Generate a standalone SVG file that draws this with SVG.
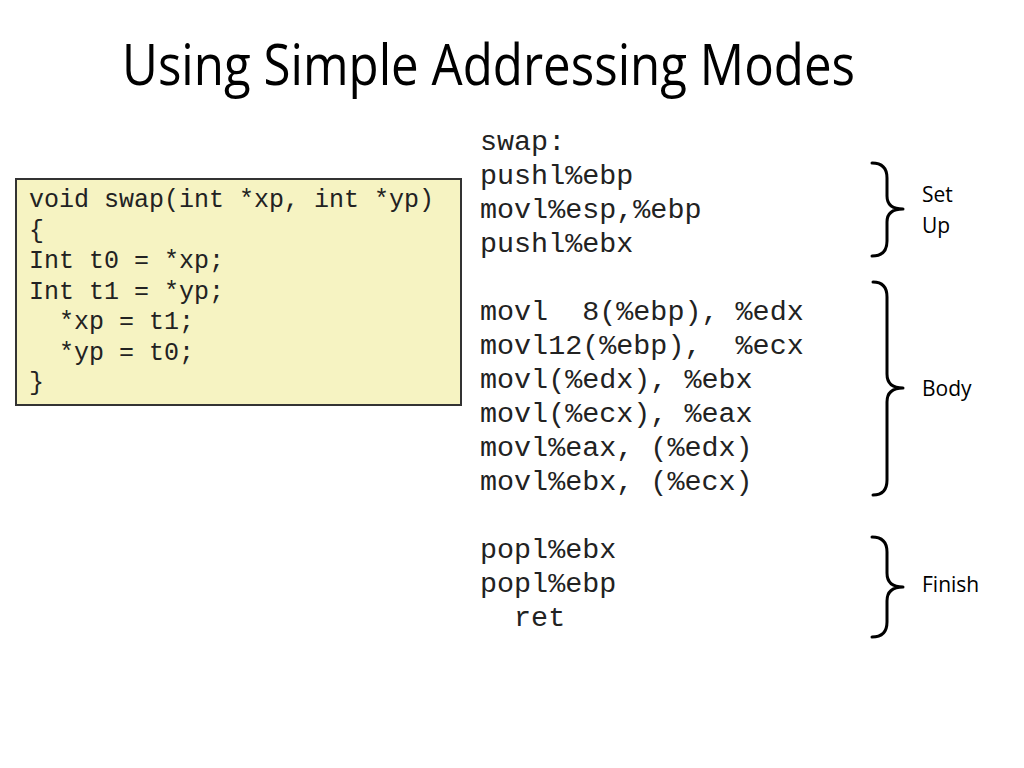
<svg xmlns="http://www.w3.org/2000/svg" width="1024" height="768" viewBox="0 0 1024 768">
  <style>
    .title { font-family: "Open Sans", "Liberation Sans", sans-serif; font-size: 56px; fill: #000; }
    .code { font-family: "Liberation Mono", "Courier New", monospace; font-size: 25px; fill: #222; white-space: pre; }
    .asm { font-family: "Liberation Mono", "Courier New", monospace; font-size: 28.4px; fill: #222; white-space: pre; }
    .label { font-family: "Open Sans", "Liberation Sans", sans-serif; font-size: 21px; fill: #000; }
    .brace { fill: none; stroke: #000; stroke-width: 3; stroke-linecap: round; stroke-linejoin: round; }
  </style>
  <rect x="0" y="0" width="1024" height="768" fill="#ffffff"/>

  <g id="title">
    <text class="title" x="122" y="85" textLength="733" lengthAdjust="spacingAndGlyphs">Using Simple Addressing Modes</text>
  </g>

  <g id="c-code">
    <rect x="16" y="179" width="445" height="226" fill="#F6F3C2" stroke="#333333" stroke-width="2"/>
    <text class="code" xml:space="preserve" x="29" y="207">void swap(int *xp, int *yp)</text>
    <text class="code" xml:space="preserve" x="29" y="237.5">{</text>
    <text class="code" xml:space="preserve" x="29" y="268">Int t0 = *xp;</text>
    <text class="code" xml:space="preserve" x="29" y="298.5">Int t1 = *yp;</text>
    <text class="code" xml:space="preserve" x="29" y="329">  *xp = t1;</text>
    <text class="code" xml:space="preserve" x="29" y="359.5">  *yp = t0;</text>
    <text class="code" xml:space="preserve" x="29" y="390">}</text>
  </g>

  <g id="asm-code">
    <text class="asm" xml:space="preserve" x="480" y="150">swap:</text>
    <text class="asm" xml:space="preserve" x="480" y="184">pushl%ebp</text>
    <text class="asm" xml:space="preserve" x="480" y="218">movl%esp,%ebp</text>
    <text class="asm" xml:space="preserve" x="480" y="252">pushl%ebx</text>
    <text class="asm" xml:space="preserve" x="480" y="320">movl  8(%ebp), %edx</text>
    <text class="asm" xml:space="preserve" x="480" y="354">movl12(%ebp),  %ecx</text>
    <text class="asm" xml:space="preserve" x="480" y="388">movl(%edx), %ebx</text>
    <text class="asm" xml:space="preserve" x="480" y="422">movl(%ecx), %eax</text>
    <text class="asm" xml:space="preserve" x="480" y="456">movl%eax, (%edx)</text>
    <text class="asm" xml:space="preserve" x="480" y="490">movl%ebx, (%ecx)</text>
    <text class="asm" xml:space="preserve" x="480" y="558">popl%ebx</text>
    <text class="asm" xml:space="preserve" x="480" y="592">popl%ebp</text>
    <text class="asm" xml:space="preserve" x="480" y="626">  ret</text>
  </g>

  <g id="braces">
    <path class="brace" d="M872,163 Q887,163 887,178 L887,196 Q887,209 903,209 Q887,209 887,222 L887,241 Q887,256 872,256"/>
    <path class="brace" d="M873,282 Q887,282 887,297 L887,374 Q887,388 903,388 Q887,388 887,402 L887,480 Q887,495 873,495"/>
    <path class="brace" d="M872,537 Q887,537 887,552 L887,573 Q887,587 903,587 Q887,587 887,601 L887,622 Q887,637 872,637"/>
  </g>

  <g id="setup-label">
    <text class="label" x="922" y="202">Set</text>
    <text class="label" x="922" y="233">Up</text>
  </g>
  <g id="body-label">
    <text class="label" x="922" y="396">Body</text>
  </g>
  <g id="finish-label">
    <text class="label" x="922" y="592">Finish</text>
  </g>
</svg>
